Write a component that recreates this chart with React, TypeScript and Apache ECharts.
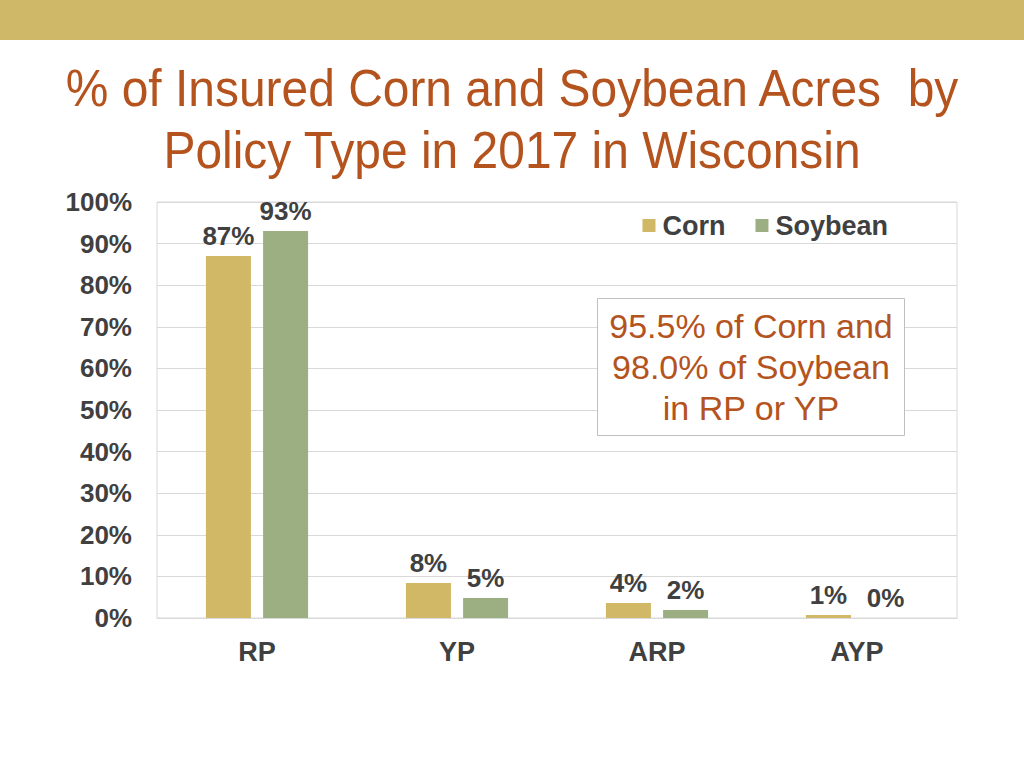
import React, { useEffect, useRef } from "react";
import * as echarts from "echarts";

const categories = ["RP", "YP", "ARP", "AYP"];
const cornValues = [87, 8.4, 3.6, 0.7];
const soybeanValues = [93, 4.8, 1.9, 0];
const seriesNames = ["Corn", "Soybean"];
const titleLines = ["% of Insured Corn and Soybean Acres  by", "Policy Type in 2017 in Wisconsin"];
const noteLines = ["95.5% of Corn and", "98.0% of Soybean", "in RP or YP"];

const CORN = "#D0B866";
const SOY = "#9CAF82";
const DARK = "#404040";
const RUST = "#B4531E";
const FONT = "Liberation Sans, Arial, sans-serif";

export default function App() {
  const ref = useRef<HTMLDivElement>(null);
  useEffect(() => {
    if (!ref.current) return;
    const chart = echarts.init(ref.current, undefined, { renderer: "svg" });
    const labelCfg = {
      show: true,
      position: "top",
      distance: 7,
      color: DARK,
      fontSize: 26,
      fontWeight: "bold",
      fontFamily: FONT,
      formatter: (p: any) => Math.round(p.value) + "%",
    };
    chart.setOption({
      animation: false,
      backgroundColor: "#ffffff",
      grid: {
        left: 157,
        right: 67,
        top: 202,
        bottom: 150,
        show: true,
        borderColor: "#D9D9D9",
        borderWidth: 1,
        containLabel: false,
      },
      legend: {
        data: seriesNames,
        right: 136,
        top: 212,
        padding: 0,
        itemWidth: 13,
        itemHeight: 13,
        itemGap: 30,
        icon: "rect",
        textStyle: {
          color: DARK,
          fontSize: 27,
          fontWeight: "bold",
          fontFamily: FONT,
          padding: [0, 0, 0, 2],
        },
      },
      xAxis: {
        type: "category",
        data: categories,
        axisLine: { show: true, lineStyle: { color: "#D9D9D9" } },
        axisTick: { show: false },
        axisLabel: {
          color: DARK,
          fontSize: 27,
          fontWeight: "bold",
          margin: 20,
          fontFamily: FONT,
        },
      },
      yAxis: {
        type: "value",
        min: 0,
        max: 100,
        interval: 10,
        axisLine: { show: false },
        axisTick: { show: false },
        splitLine: { lineStyle: { color: "#D9D9D9" } },
        axisLabel: {
          formatter: "{value}%",
          color: DARK,
          fontSize: 26,
          fontWeight: "bold",
          margin: 25,
          fontFamily: FONT,
        },
      },
      series: [
        {
          name: seriesNames[0],
          type: "bar",
          data: cornValues,
          barWidth: 45,
          barGap: "27%",
          itemStyle: { color: CORN },
          label: labelCfg,
        },
        {
          name: seriesNames[1],
          type: "bar",
          data: soybeanValues,
          barWidth: 45,
          barGap: "27%",
          itemStyle: { color: SOY },
          label: labelCfg,
        },
      ],
      graphic: [
        {
          type: "rect",
          shape: { x: 0, y: 0, width: 1024, height: 40 },
          style: { fill: "#D0B869" },
          silent: true,
        },
        ...titleLines.map((t, i) => ({
          type: "text",
          x: 512,
          y: 88 + i * 62,
          scaleX: 0.94,
          style: {
            text: t,
            fill: RUST,
            fontSize: 51,
            fontFamily: FONT,
            textAlign: "center",
            textVerticalAlign: "middle",
          },
        })),
        {
          type: "rect",
          shape: { x: 597.5, y: 298.5, width: 307, height: 137 },
          style: { fill: "#ffffff", stroke: "#BFBFBF", lineWidth: 1 },
          z: 10,
        },
        ...noteLines.map((t, i) => ({
          type: "text",
          x: 751,
          y: 326 + i * 41,
          z: 11,
          style: {
            text: t,
            fill: RUST,
            fontSize: 34,
            fontFamily: FONT,
            textAlign: "center",
            textVerticalAlign: "middle",
          },
        })),
      ],
    });
    return () => chart.dispose();
  }, []);
  return (
    <div
      ref={ref}
      style={{ position: "absolute", left: 0, top: 0, width: 1024, height: 768 }}
    />
  );
}
